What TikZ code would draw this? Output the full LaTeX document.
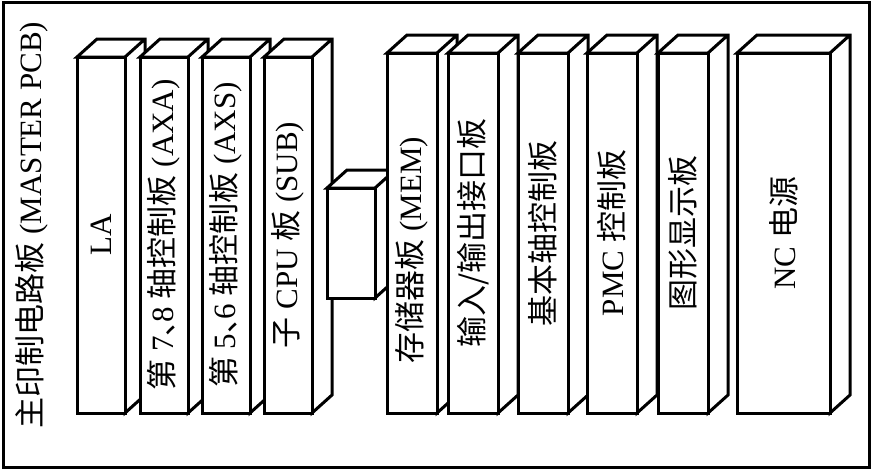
\documentclass[tikz,border=0pt]{standalone}
\usepackage{fontspec}
\setmainfont{Liberation Serif}
\newfontfamily\cjk{Noto Sans CJK SC}
\newcommand{\dun}{\makebox[0.45em][l]{\cjk 、}}
\usetikzlibrary{positioning}

\begin{document}
\begin{tikzpicture}[x=1pt, y=-1pt, line width=3pt,
					board/.style={rectangle, inner sep=0pt, outer sep=0pt, anchor=north west, minimum width=48pt, minimum height=356pt},
					tallboard/.style={board, minimum width=50pt, minimum height=360pt},
					face/.style={draw, fill=white},
					caption/.style={rotate=90, inner sep=0pt, font=\fontsize{31}{36}\selectfont}
				]
					\useasboundingbox (0,0) rectangle (872,469);
					\draw (3,2) rectangle (869,467);
					
					% Boards
					\node[board] (la) at (77,57) {};
					\node[board, right=15pt of la] (axa) {};
					\node[board, right=14pt of axa] (axs) {};
					\node[board, right=14pt of axs] (sub) {};
					\node[board, minimum height=110pt, right=15pt of sub, yshift=-8pt] (link) {};
					\node[tallboard] (mem) at (387,53) {};
					\node[tallboard, right=11pt of mem] (io) {};
					\node[tallboard, right=20pt of io] (basic) {};
					\node[tallboard, right=19pt of basic] (pmc) {};
					\node[tallboard, right=21pt of pmc] (graph) {};
					\node[tallboard, minimum width=93pt, right=29pt of graph] (nc) {};
					
					% Faces
					\foreach \n in {la, axa, axs, sub, link, mem, io, basic, pmc, graph, nc} {
						\draw[face] (\n.north west) -- ([shift={(20,-18)}]\n.north west) -- ([shift={(20,-18)}]\n.north east) -- ([shift={(20,-18)}]\n.south east) -- (\n.south east) -- (\n.north east) -- cycle
							(\n.north east) -- ([shift={(20,-18)}]\n.north east);
						\draw[face] (\n.north west) rectangle (\n.south east);
					}
					
					% Labels
					\node[caption] (pcb) at (32,225) {{\cjk 主印制电路板} (MASTER PCB)};
					\node[caption] (la-text) at (la) {LA};
					\node[caption] (axa-text) at (axa) {{\cjk 第} 7\dun8 {\cjk 轴控制板} (AXA)};
					\node[caption] (axs-text) at (axs) {{\cjk 第} 5\dun6 {\cjk 轴控制板} (AXS)};
					\node[caption] (sub-text) at (sub) {{\cjk 子} CPU {\cjk 板} (SUB)};
					\node[caption] (mem-text) at ([yshift=-17pt]mem.center) {{\cjk 存储器板} (MEM)};
					\node[caption] (io-text) at (io) {\cjk 输入/输出接口板};
					\node[caption] (basic-text) at (basic) {\cjk 基本轴控制板};
					\node[caption] (pmc-text) at (pmc) {PMC {\cjk 控制板}};
					\node[caption] (graph-text) at (graph) {\cjk 图形显示板};
					\node[caption] (nc-text) at (nc) {NC {\cjk 电源}};
				\end{tikzpicture}
\end{document}
